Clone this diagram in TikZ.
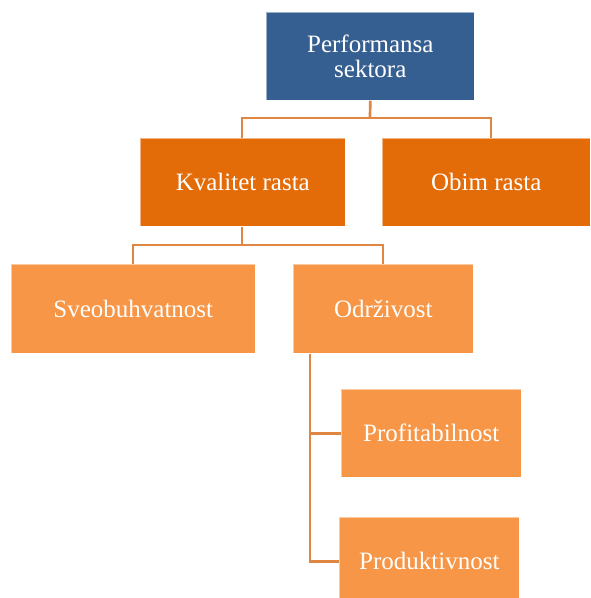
\documentclass[tikz,border=0pt]{standalone}
\usepackage{fontspec}
\setmainfont{Liberation Serif}
\definecolor{topblue}{RGB}{54,95,145}
\definecolor{midorange}{RGB}{227,108,9}
\definecolor{lightorange}{RGB}{247,150,70}
\definecolor{linkcol}{RGB}{222,134,66}
\tikzset{
  box/.style={anchor=north west, inner sep=0pt, draw=white, draw opacity=0.5, line width=0.6pt,
    text=white, font=\fontsize{25}{25}\selectfont, align=center},
  lvlzero/.style={box, fill=topblue},
  lvlone/.style={box, fill=midorange},
  lvltwo/.style={box, fill=lightorange},
  link/.style={draw=linkcol, line width=2.7pt}
}
\begin{document}
\begin{tikzpicture}[x=1pt,y=-1pt]
\useasboundingbox (0,0) rectangle (590,598);
\node[lvlzero, minimum width=208pt, minimum height=88pt] (perf) at (266,12) {Performansa\\sektora};
\node[lvlone, minimum width=205pt, minimum height=88pt] (kval) at (140,138) {Kvalitet rasta};
\node[lvlone, minimum width=208pt, minimum height=88pt] (obim) at (382,138) {Obim rasta};
\node[lvltwo, minimum width=244pt, minimum height=89pt] (sveo) at (11,264) {Sveobuhvatnost};
\node[lvltwo, minimum width=180pt, minimum height=89pt] (odrz) at (293,264) {Održivost};
\node[lvltwo, minimum width=180pt, minimum height=88pt] (prof) at (341,389) {Profitabilnost};
\node[lvltwo, minimum width=180pt, minimum height=88pt] (prod) at (339,517) {Produktivnost};
\coordinate (j1) at (370,118);
\coordinate (j2) at (242,245);
\coordinate (j3) at (310,0);
\draw[link] (perf.south) -- (j1);
\draw[link] (kval.north -| 242,0) |- (j1) -| (obim.north -| 491,0);
\draw[link] (kval.south -| j2) -- (j2);
\draw[link] (sveo.north -| 133,0) |- (j2) -| (odrz.north -| 383,0);
\draw[link] (odrz.south -| j3) |- (prod.west);
\draw[link] (prof.west) -- (prof.west -| j3);
\end{tikzpicture}
\end{document}
